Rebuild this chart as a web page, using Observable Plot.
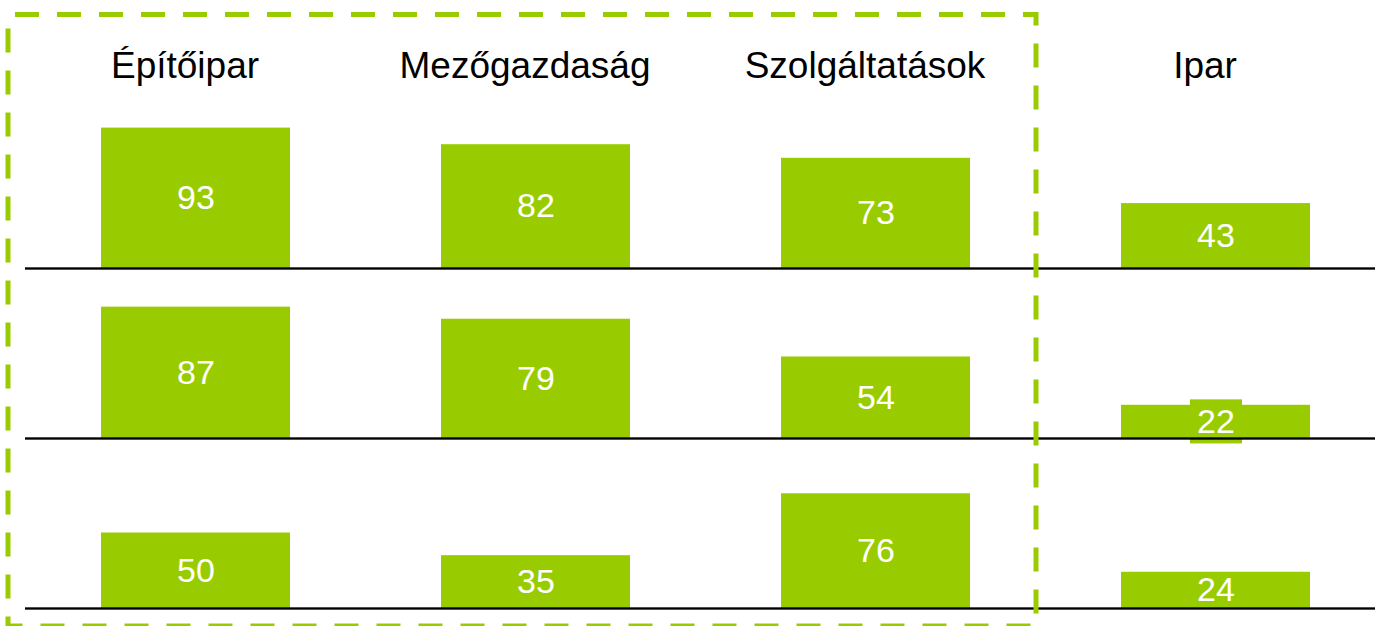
<!DOCTYPE html>
<html>
<head>
<meta charset="utf-8">
<script src="https://cdn.jsdelivr.net/npm/d3@7"></script>
<script src="https://cdn.jsdelivr.net/npm/@observablehq/plot@0.6"></script>
<style>
  html, body { margin: 0; padding: 0; background: white; overflow: hidden; }
  #chart svg { display: block; }
</style>
</head>
<body>
<div id="chart"></div>
<script>
// Categories (column headers)
const categories = ["Építőipar", "Mezőgazdaság", "Szolgáltatások", "Ipar"];
// Row identifiers (three stacked panels)
const rows = ["1", "2", "3"];
// Values per row, in category order
const row1Values = [93, 82, 73, 43];
const row2Values = [87, 79, 54, 22];
const row3Values = [50, 35, 76, 24];
// Categories enclosed by the dashed highlight box
const highlighted = ["Építőipar", "Mezőgazdaság", "Szolgáltatások"];

const GREEN = "#99cc00";
const seriesValues = [row1Values, row2Values, row3Values];
const data = [];
rows.forEach((r, i) => categories.forEach((c, j) => data.push({row: r, cat: c, value: seriesValues[i][j]})));

const chart = Plot.plot({
  width: 1375,
  height: 626,
  marginTop: 98,
  marginBottom: 18,
  marginLeft: 25,
  marginRight: 0,
  style: {fontFamily: "'Liberation Sans', Arial, sans-serif", fontSize: "37px", color: "black", background: "white", overflow: "visible"},
  facet: {data, y: "row"},
  fy: {domain: rows, padding: 0, axis: null, label: null},
  x: {domain: categories, range: [25.5, 1385.5], paddingInner: 0.444, paddingOuter: 0.222, axis: "top", tickSize: 0, tickPadding: 21, label: null},
  y: {domain: [0, 112.6], axis: null},
  marks: [
    Plot.barY(data, {x: "cat", y: "value", fill: GREEN}),
    Plot.barY(data, {
      filter: d => d.cat === "Ipar" && d.row === "2",
      x: "cat",
      y1: d => d.value / 2 - 14.6,
      y2: d => d.value / 2 + 14.6,
      insetLeft: 69, insetRight: 68,
      fill: GREEN
    }),
    Plot.ruleY(data, {y: 0, stroke: "#000", strokeWidth: 1.6}),
    Plot.text(data, {x: "cat", y: d => d.value / 2, text: d => String(d.value), fill: "white", fontSize: 34})
  ]
});

document.getElementById("chart").appendChild(chart);

const svg = d3.select(chart.tagName.toLowerCase() === "svg" ? chart : chart.querySelector("svg"));

// Column headers sit slightly left of the bar centres in the reference
svg.selectAll("g[aria-label='x-axis'], g[aria-label='x-axis tick label']").attr("transform", function() {
  const t = d3.select(this).attr("transform") || "";
  return t + " translate(-11,0)";
});

// Dashed highlight box around the first three categories
const xs = chart.scale("x");
const bw = xs.bandwidth;
const left = xs.apply(highlighted[0]) - 93;
const right = xs.apply(highlighted[highlighted.length - 1]) + bw + 66;
svg.append("rect")
  .attr("x", left).attr("y", 14.5)
  .attr("width", right - left).attr("height", 626 - 14.5)
  .attr("fill", "none")
  .attr("stroke", GREEN)
  .attr("stroke-width", 5)
  .attr("stroke-dasharray", "24 18")
  .attr("stroke-dashoffset", 35);
</script>
</body>
</html>
